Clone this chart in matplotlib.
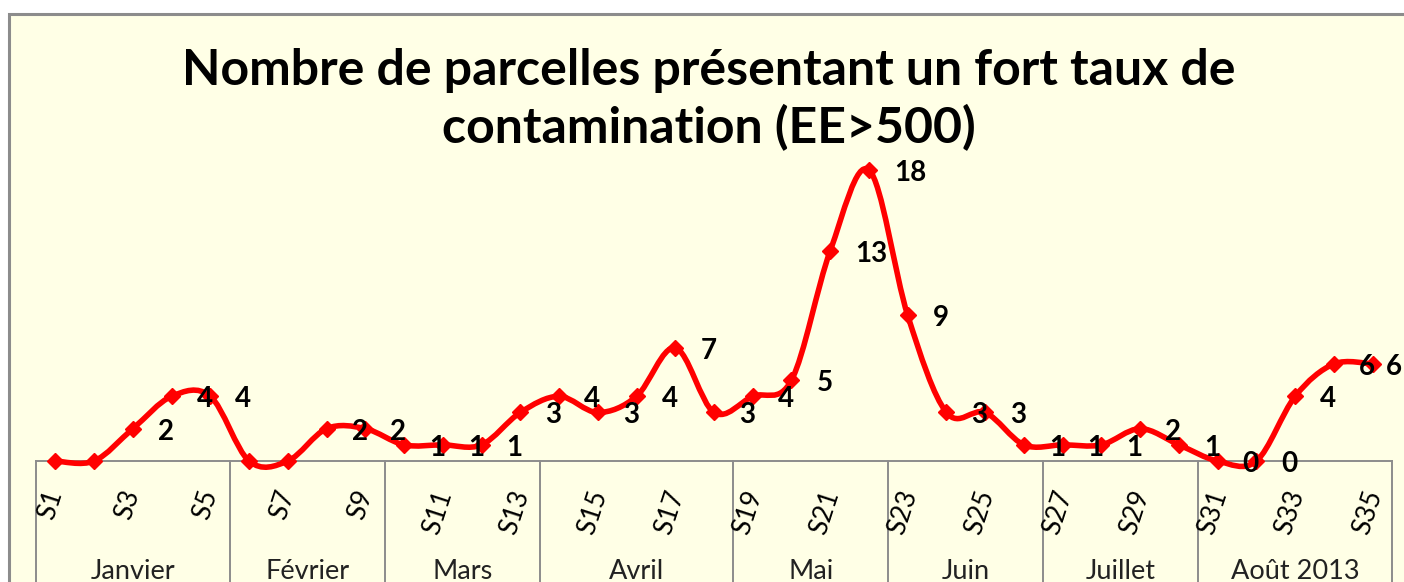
import numpy as np
import matplotlib
matplotlib.use("Agg")
import matplotlib.pyplot as plt
from matplotlib.path import Path
from matplotlib.patches import PathPatch, Rectangle

weeks = ["S%d" % i for i in range(1, 36)]
values = [0, 0, 2, 4, 4, 0, 0, 2, 2, 1, 1, 1, 3, 4, 3, 4, 7, 3, 4, 5,
          13, 18, 9, 3, 3, 1, 1, 1, 2, 1, 0, 0, 4, 6, 6]
# weeks whose data label is not shown in the original
no_label = ["S1", "S2", "S6", "S7"]
months = ["Janvier", "Février", "Mars", "Avril", "Mai", "Juin", "Juillet", "Août 2013"]
month_weeks = [5, 4, 4, 5, 4, 4, 4, 5]

title1 = "Nombre de parcelles présentant un fort taux de"
title2 = "contamination (EE>500)"

W, H = 1404, 582
fig = plt.figure(figsize=(W / 100, H / 100), dpi=100)
fig.patch.set_facecolor("white")

# chart area (cropped excel chart)
fig.patches.append(Rectangle((9 / W, -0.1), 1.2, 1 - 14 / H + 0.1, transform=fig.transFigure,
                             facecolor="#FFFFE6", edgecolor="#8C8C8C", linewidth=2.2, zorder=-10))

ax = fig.add_axes([36 / W, 1 - 461 / H, 1356 / W, (461 - 137.6) / H])
ax.set_zorder(2)
ax.set_facecolor("none")
ax.set_xlim(0.5, 35.5)
ax.set_ylim(0, 20)
for s in ["top", "left", "right"]:
    ax.spines[s].set_visible(False)
ax.spines["bottom"].set_color("#8C8C8C")
ax.spines["bottom"].set_linewidth(1.4)
ax.set_xticks([])
ax.set_yticks([])

x = np.arange(1, len(values) + 1)
y = np.array(values, dtype=float)

# smoothed line (bezier through the points, like excel)
pts = np.column_stack([x, y])
ext = np.vstack([pts[0], pts, pts[-1]])
verts = [tuple(pts[0])]
codes = [Path.MOVETO]
for i in range(len(pts) - 1):
    p0, p1, p2, p3 = ext[i], ext[i + 1], ext[i + 2], ext[i + 3]
    c1 = p1 + (p2 - p0) / 6
    c2 = p2 - (p3 - p1) / 6
    verts += [tuple(c1), tuple(c2), tuple(p2)]
    codes += [Path.CURVE4] * 3
ax.add_patch(PathPatch(Path(verts, codes), facecolor="none", edgecolor="#FF0000",
                       linewidth=4, capstyle="round", joinstyle="round", clip_on=False, zorder=3))
ax.plot(x, y, linestyle="none", marker="D", markersize=8, color="#FF0000", clip_on=False, zorder=4)

for i, (xi, v) in enumerate(zip(x, values)):
    if weeks[i] in no_label:
        continue
    dx = 13 if i == len(values) - 1 else 25   # last label kept inside the chart
    ax.annotate(str(v), (xi, v), xytext=(dx, -3), textcoords="offset pixels",
                ha="left", va="center", fontsize=20, fontweight="bold", family="Lato",
                color="black", annotation_clip=False, zorder=5)

tr = ax.get_xaxis_transform()
for i, w in enumerate(weeks):
    if i % 2 == 0:
        ax.annotate(w, (x[i], 0), xycoords=tr, xytext=(-5, -26), textcoords="offset pixels",
                    rotation=72, ha="center", va="top", fontsize=19, family="Lato",
                    color="black", annotation_clip=False)

bounds = np.concatenate([[0], np.cumsum(month_weeks)]) + 0.5
for b in bounds:
    ax.plot([b, b], [0, -1], transform=tr, color="#8C8C8C", linewidth=1.4, clip_on=False)
for m, a, b in zip(months, bounds[:-1], bounds[1:]):
    ax.annotate(m, ((a + b) / 2, 0), xycoords=tr, xytext=(0, -118), textcoords="offset pixels",
                ha="center", va="baseline", fontsize=19.5, family="Lato", color="#222222",
                annotation_clip=False)

fig.text(709 / W, 1 - 85 / H, title1, ha="center", va="baseline", fontsize=36,
         fontweight="bold", family="Lato")
fig.text(709 / W, 1 - 143 / H, title2, ha="center", va="baseline", fontsize=36,
         fontweight="bold", family="Lato")

fig.savefig("out.png", dpi=100)
